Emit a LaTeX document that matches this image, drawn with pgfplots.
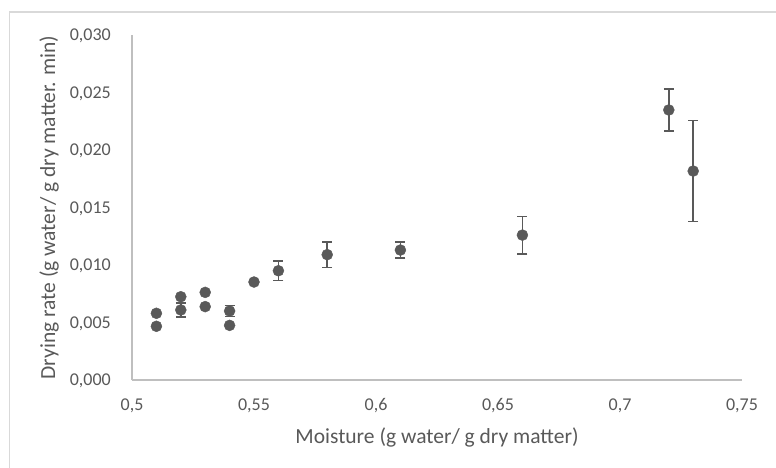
\documentclass[border=0pt]{standalone}
\usepackage{pgfplots}
\pgfplotsset{compat=1.18}
\usepackage{fontspec}
\setmainfont{Carlito}
\definecolor{txtgray}{RGB}{89,89,89}
\definecolor{axgray}{RGB}{191,191,191}
\definecolor{framegray}{RGB}{217,217,217}
\definecolor{ptgray}{RGB}{89,89,89}

% points with no visible error bars
\pgfplotstableread{
x     y
0.51  0.0058
0.51  0.00467
0.52  0.00724
0.53  0.00762
0.53  0.00638
0.54  0.00475
0.55  0.00852
}\plain
% points with error bars (symmetric)
\pgfplotstableread{
x     y        e
0.52  0.00609  0.0006
0.54  0.0060   0.00047
0.56  0.0095   0.00085
0.58  0.0109   0.00112
0.61  0.0113   0.0007
0.66  0.0126   0.00163
0.72  0.02348  0.00185
0.73  0.01817  0.0044
}\witherr

\begin{document}
\begin{tikzpicture}
\useasboundingbox (0,0) rectangle (776bp,468bp);
\fill[white] (0,0) rectangle (776bp,468bp);
\draw[framegray, line width=1.2bp] (9.5bp,-2bp) -- (9.5bp,456bp) -- (780bp,456bp);
\begin{axis}[
  scale only axis,
  width=610bp, height=345bp,
  at={(132bp,88bp)}, anchor=south west,
  xmin=0.5, xmax=0.75, ymin=0, ymax=0.03,
  xtick={0.5,0.55,...,0.75},
  ytick={0,0.005,...,0.030},
  axis x line*=bottom, axis y line*=left,
  axis line style={axgray, line width=1.3bp, -},
  major tick length=0pt,
  /pgf/number format/assume math mode=true,
  /pgf/number format/use comma,
  xticklabel style={/pgf/number format/precision=2, anchor=base, inner sep=0pt, yshift=-30.7bp},
  yticklabel style={/pgf/number format/fixed, /pgf/number format/fixed zerofill,
    /pgf/number format/precision=3, anchor=base east, inner sep=0pt, xshift=-21bp, yshift=-5.6bp},
  scaled y ticks=false, scaled x ticks=false,
  tick label style={font=\fontsize{18bp}{22bp}\selectfont, text=txtgray},
  label style={font=\fontsize{21.5bp}{25bp}\selectfont, text=txtgray},
  xlabel={Moisture (g water/ g dry matter)},
  ylabel={Drying rate (g water/ g dry matter. min)},
  xlabel style={at={(axis description cs:0.5,-0.183)}, anchor=base, inner sep=0pt},
  ylabel style={at={(axis description cs:-0.126,0.5)}, anchor=base, inner sep=0pt},
  clip=false,
]
\addplot[only marks, mark=*, mark size=5.5bp, ptgray, mark options={draw=ptgray, fill=ptgray}]
  table[x=x, y=y] {\plain};
\addplot[only marks, mark=*, mark size=5.5bp, ptgray, mark options={draw=ptgray, fill=ptgray},
  error bars/.cd, y dir=both, y explicit,
  error bar style={ptgray, line width=1.6bp},
  error mark=-,
  error mark options={rotate=90, ptgray, line width=1.6bp, mark size=5bp}]
  table[x=x, y=y, y error=e] {\witherr};
\end{axis}
\end{tikzpicture}
\end{document}
